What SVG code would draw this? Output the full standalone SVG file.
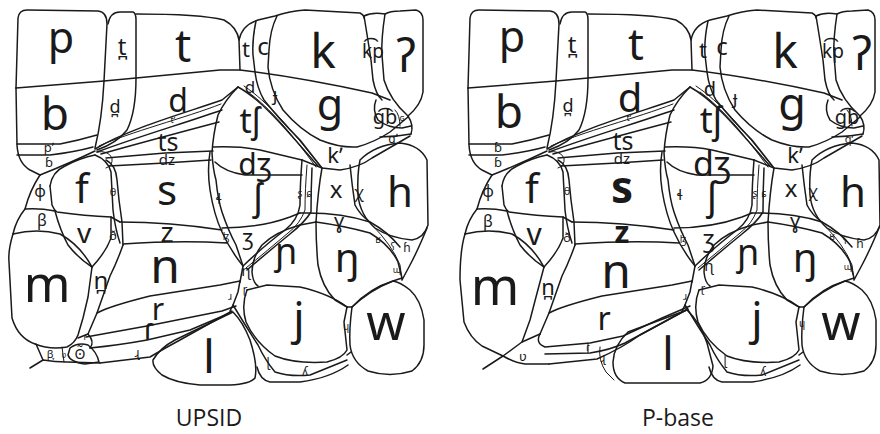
<svg xmlns="http://www.w3.org/2000/svg" width="880" height="434" viewBox="0 0 880 434">
<style>
.ln path{fill:none;stroke:#1a1a1a;stroke-width:1.5;stroke-linejoin:round;stroke-linecap:round}
.ln path.t{stroke-width:1}
text{font-family:"Noto Sans","DejaVu Sans",sans-serif;fill:#1a1a1a;text-anchor:middle}
.lab{opacity:0.995}
.cap{font-family:"Open Sans","Noto Sans",sans-serif;font-size:23px}
.bd{font-weight:700}
</style>
<rect width="880" height="434" fill="#fff"/>
<defs>
<g id="geoC" class="ln">
<path d="M16,88 L18,18 Q19,10 27,10 L98,11 Q107,12 107,24 L104,81"/>
<path d="M108,24 Q110,12 120,12 L133,12 Q136,13 136,20 L136,78"/>
<path d="M136,14 Q200,14 224,20 Q237,27 239,40 L240,70"/>
<path d="M16,88 L104,81 L136,78 L220,70 L240,70 C290,76 340,86 372,93 L390,100"/>
<path d="M239,40 Q242,25 258,20 L275,16 Q290,11 305,10 L360,13 Q364,15 364,18"/>
<path d="M256,21 Q252,40 253,55 L255,72 Q257,88 264,100 Q280,120 300,140 L322,168"/>
<path d="M277,16 Q270,30 269,50 L268,67 Q270,90 283,110 Q300,130 320,140 Q340,148 357,147 Q375,142 390,132 L408,117"/>
<path d="M364,16 Q368,40 371,60 L373,80 Q376,95 382,100"/>
<path d="M364,16 Q372,12 385,14 Q390,11 400,11 L416,10 Q423,12 423,20 L423,92 Q421,105 408,116"/>
<path d="M385,14 Q381,40 382,55 L384,80 Q390,100 408,116"/>
<path d="M376,100 Q372,110 378,120 Q388,128 402,128 L411,126"/>
<path d="M408,116 Q414,125 411,134"/>
<path d="M380,137 Q395,137 411,134"/>
<path class="t" d="M395,110 Q400,115 400,126"/>
<path d="M16,88 L17,145 Q18,163 30,170 L40,175"/>
<path d="M17,144 L60,144 Q80,140 97,135"/>
<path d="M17,155 L50,155 Q75,152 93,147"/>
<path d="M40,175 Q70,163 95,151"/>
<path d="M104,81 Q102,120 95,148"/>
<path d="M136,78 Q136,112 127,130 Q117,143 97,150"/>
<path d="M95,149 C130,128 185,113 222,100 L238,87"/>
<path d="M97,152 C140,136 185,123 222,110"/>
<path d="M101,154 C140,143 185,131 219,122"/>
<path class="t" d="M99,146 C130,132 185,118 221,104"/>
<path d="M106,158 L165,153 L213,151"/>
<path d="M109,166 L165,163 L211,160"/>
<path class="t" d="M97,152 Q108,150 112,158 Q113,166 106,168"/>
<path d="M50,186 Q52,172 65,166 Q80,158 95,155"/>
<path d="M50,186 L52,205 Q54,210 57,212 Q85,216 111,217 L120,222"/>
<path d="M95,155 Q108,160 111,172 L113,210 Q115,228 120,243"/>
<path d="M106,160 Q116,165 117,180 L119,200 Q121,215 122,222 L123,245"/>
<path d="M40,175 Q30,190 25,209 Q16,220 13,234"/>
<path d="M25,209 Q40,208 55,211"/>
<path d="M13,234 Q37,228 60,234 Q80,245 92,267"/>
<path d="M55,211 Q60,230 68,245 Q78,258 92,267"/>
<path d="M111,217 L111,238 Q106,252 92,267"/>
<path d="M123,245 Q117,262 110,276 L104,293 L97,313 L88,334"/>
<path d="M120,222 Q170,222 222,230"/>
<path d="M123,244 Q180,240 227,243"/>
<path d="M97,313 Q110,306 150,296 L220,285 L240,281"/>
<path d="M247,290 Q241,305 246,322 Q255,342 275,356 Q295,364 327,362 Q343,358 347,350 L344,322 L347,307"/>
<path d="M247,290 L267,285 L300,287 Q330,294 347,307"/>
<path d="M240,281 L238,292 L233,305 L230,311"/>
<path d="M233,305 Q245,325 258,345 Q265,360 275,372 Q290,377 310,375 L347,360"/>
<path d="M257,367 Q260,380 270,382 L300,382 Q330,378 348,365"/>
<path d="M352,307 Q349,330 350,345 Q352,362 368,371 Q390,378 412,371 Q424,362 424,345 L424,320 Q421,300 410,290 Q400,282 393,281 Q370,288 352,307"/>
<path d="M347,307 L352,307"/>
<path d="M347,355 L351,352"/>
<path d="M238,87 Q225,100 218,115 Q213,135 212,153 Q213,170 216,180 Q218,200 222,212 Q228,230 236,245 L243,266"/>
<path d="M210,152 Q207,170 210,190 Q214,215 222,232 Q230,250 243,266"/>
<path d="M213,147 Q240,146 260,150 Q285,156 302,160"/>
<path d="M215,162 Q225,172 245,175 L302,175"/>
<path d="M238,87 C262,100 285,128 318,166"/>
<path class="t" d="M244,86 C268,102 290,128 320,166"/>
<path class="t" d="M248,92 C270,108 292,134 316,167"/>
<path d="M302,160 Q300,185 300,205 Q298,220 285,230 Q265,245 243,266"/>
<path class="t" d="M307,165 Q305,190 305,210 Q300,224 288,233 Q268,250 246,268"/>
<path d="M312,168 Q311,190 311,212 Q305,222 290,234 Q268,252 247,270"/>
<path d="M302,160 L322,168 L340,170 Q360,167 372,158 L410,136"/>
<path d="M222,228 Q260,228 290,217 L300,213"/>
<path d="M322,168 Q318,190 316,222"/>
<path d="M350,165 Q352,185 355,205 Q360,215 370,222"/>
<path d="M300,213 Q340,212 370,222 Q388,232 400,247"/>
<path d="M360,160 Q375,145 400,143 Q420,145 427,160 L428,225 Q424,238 412,240 Q390,238 375,228 Q360,215 358,195 Q357,175 360,160"/>
<path d="M427,228 Q418,250 410,265 L402,280"/>
<path class="t" d="M372,225 Q392,245 400,265 L402,280"/>
<path d="M300,225 Q275,232 262,245 Q252,258 252,272 Q253,283 258,286"/>
<path d="M300,225 L316,222"/>
<path d="M316,222 Q316,245 318,265 Q322,287 335,300 L347,307"/>
<path d="M316,222 Q345,226 370,233 Q390,245 398,262 L402,278"/>
<path d="M352,307 Q370,290 393,281 L402,278"/>
<path d="M243,266 L240,282"/>
</g>
</defs>

<g id="upsid">
<g id="upsid-cells" class="ln">
<use href="#geoC"/>
<path d="M13,234 Q8,250 9,262 L12,318 Q18,338 35,344 Q50,350 67,347 Q75,343 78,335 L83,318 L88,297 L92,267"/>
<path d="M78,338 L88,334 Q95,342 90,348"/>
<path d="M86,337 L147,326 L222,311 L236,306"/>
<path d="M90,348 Q120,345 147,340 L190,330 L230,313"/>
<path d="M100,363 L150,357 Q165,348 180,340 L232,311"/>
<path d="M153,360 Q160,348 175,340 L233,312 Q243,322 250,340 Q258,365 255,378 Q250,384 230,385 L200,385 Q175,383 162,375 Q152,367 153,360"/>
<path d="M30,368 L43,360 Q55,362 67,362 L100,363"/>
<path d="M36,344 L43,360"/>
<path class="t" d="M62,347 L64,362"/>
<path d="M70,348 Q78,342 88,345 Q97,352 99,362 L85,364 Q70,362 68,355 Z"/>
</g>
<g id="upsid-labels" class="lab">
<text x="61" y="53" font-size="43">p</text>
<text x="122" y="55" font-size="24">t̪</text>
<text x="183" y="62" font-size="45">t</text>
<text x="246" y="57" font-size="22">t</text>
<text x="263" y="55" font-size="24">c</text>
<text x="323" y="68" font-size="48">k</text>
<text x="373" y="58" font-size="19">k͡p</text>
<text x="406" y="72" font-size="46">ʔ</text>
<text x="55" y="130" font-size="46">b</text>
<text x="115" y="113" font-size="18">d̪</text>
<text x="178" y="112" font-size="32">d</text>
<text x="250" y="93" font-size="17">d</text>
<text x="275" y="101" font-size="18">ɟ</text>
<text x="330" y="120" font-size="43">ɡ</text>
<text x="250" y="133" font-size="34">tʃ</text>
<text x="385" y="124" font-size="20">ɡ͡b</text>
<text x="402" y="121" font-size="9">ɢ</text>
<text x="393" y="143" font-size="12">qʼ</text>
<text x="335" y="163" font-size="22">kʼ</text>
<text x="173" y="123" font-size="9">tʼ</text>
<text x="168" y="151" font-size="25">ts</text>
<text x="167" y="165" font-size="15">dz</text>
<text x="49" y="152" font-size="13">pʼ</text>
<text x="49" y="167" font-size="13">ɓ</text>
<text x="255" y="175" font-size="30">dʒ</text>
<text x="82" y="203" font-size="40">f</text>
<text x="40" y="197" font-size="16">ϕ</text>
<text x="113" y="196" font-size="11">θ</text>
<text x="167" y="205" font-size="42">s</text>
<text x="219" y="204" font-size="15">ɬ</text>
<text x="258" y="210" font-size="37">ʃ</text>
<text x="300" y="197" font-size="10">ʂ</text>
<text x="309" y="197" font-size="10">ɕ</text>
<text x="336" y="198" font-size="24">x</text>
<text x="359" y="198" font-size="16">χ</text>
<text x="400" y="207" font-size="42">h</text>
<text x="42" y="226" font-size="16">β</text>
<text x="84" y="243" font-size="28">v</text>
<text x="113" y="240" font-size="13">ð</text>
<text x="167" y="242" font-size="28">z</text>
<text x="226" y="240" font-size="10">ɮ</text>
<text x="248" y="245" font-size="22">ʒ</text>
<text x="339" y="228" font-size="20">ɣ</text>
<text x="378" y="243" font-size="10">ʁ</text>
<text x="393" y="250" font-size="10">ʕ</text>
<text x="407" y="252" font-size="12">ɦ</text>
<text x="286" y="264" font-size="36">ɲ</text>
<text x="347" y="272" font-size="40">ŋ</text>
<text x="246" y="276" font-size="15">ɳ</text>
<text x="397" y="273" font-size="9">ɰ</text>
<text x="47" y="302" font-size="50">m</text>
<text x="101" y="289" font-size="24">n̪</text>
<text x="165" y="283" font-size="48">n</text>
<text x="245" y="293" font-size="11">ɽ</text>
<text x="230" y="300" font-size="10">ɹ</text>
<text x="158" y="320" font-size="30">r</text>
<text x="149" y="340" font-size="30">ɾ</text>
<text x="85" y="340" font-size="9">ɾ</text>
<text x="299" y="334" font-size="44">j</text>
<text x="386" y="340" font-size="50">w</text>
<text x="346" y="330" font-size="10">ɥ</text>
<text x="268" y="367" font-size="12">ɭ</text>
<text x="305" y="376" font-size="12">ʎ</text>
<text x="209" y="373" font-size="46">l</text>
<text x="137" y="357" font-size="12">ɻ</text>
<text x="50" y="358" font-size="11">β̞</text>
<text x="64" y="358" font-size="8">ʋ</text>
<text x="80" y="359" font-size="14">ʘ̃</text>
</g>
</g>

<g id="pbase">
<g id="pbase-cells" class="ln">
<use href="#geoC" transform="translate(452,0)"/>
<path d="M465,234 Q460,250 460,280 L464,322 Q470,338 482,346 L503,356 L522,342 L530,320 L536,297 L544,267"/>
<path d="M483,369 L503,356"/>
<path d="M503,356 Q515,363 525,364 L549,364"/>
<path d="M522,342 L540,334"/>
<path d="M540,334 Q535,343 545,347 L590,343 L623,336 L662,318 L690,306"/>
<path d="M545,354 L590,353 Q610,350 625,343 L688,309"/>
<path d="M549,364 L597,359 Q622,348 640,335 L686,310"/>
<path d="M687,310 Q700,322 707,343 L713,366 Q712,380 700,383 L625,383 Q613,378 613,362 Q614,345 628,332 L687,310"/>
<path class="t" d="M600,347 Q598,360 606,372 L614,380"/>
<path class="t" d="M588,343 L588,353"/>
</g>
<g id="pbase-labels" class="lab">
<text x="512" y="52" font-size="43">p</text>
<text x="572" y="53" font-size="24">t̪</text>
<text x="636" y="60" font-size="44">t</text>
<text x="703" y="58" font-size="22">t</text>
<text x="722" y="55" font-size="24">c</text>
<text x="785" y="68" font-size="48">k</text>
<text x="833" y="58" font-size="19">k͡p</text>
<text x="862" y="70" font-size="46">ʔ</text>
<text x="509" y="128" font-size="46">b</text>
<text x="568" y="112" font-size="18">d̪</text>
<text x="630" y="112" font-size="40">d</text>
<text x="710" y="96" font-size="20">d</text>
<text x="735" y="104" font-size="18">ɟ</text>
<text x="792" y="120" font-size="45">ɡ</text>
<text x="711" y="133" font-size="36">tʃ</text>
<text x="847" y="124" font-size="20">ɡ͡b</text>
<text x="849" y="143" font-size="11">qʼ</text>
<text x="795" y="163" font-size="22">kʼ</text>
<text x="629" y="121" font-size="9">tʼ</text>
<text x="623" y="150" font-size="25">ts</text>
<text x="622" y="164" font-size="15">dz</text>
<text x="498" y="152" font-size="13">ɓ</text>
<text x="498" y="167" font-size="13">ɓ</text>
<text x="712" y="176" font-size="34">dʒ</text>
<text x="532" y="203" font-size="40">f</text>
<text x="488" y="197" font-size="16">ϕ</text>
<text x="567" y="195" font-size="11">θ</text>
<text x="622" y="203" font-size="44" class="bd">s</text>
<text x="680" y="200" font-size="15">ɬ</text>
<text x="712" y="210" font-size="38">ʃ</text>
<text x="755" y="197" font-size="10">ʂ</text>
<text x="764" y="197" font-size="10">ɕ</text>
<text x="791" y="197" font-size="24">x</text>
<text x="813" y="197" font-size="16">χ</text>
<text x="853" y="207" font-size="42">h</text>
<text x="488" y="227" font-size="16">β</text>
<text x="534" y="245" font-size="30">v</text>
<text x="567" y="242" font-size="13">ð</text>
<text x="622" y="243" font-size="30" class="bd">z</text>
<text x="683" y="243" font-size="10">ɮ</text>
<text x="709" y="247" font-size="24">ʒ</text>
<text x="795" y="228" font-size="20">ɣ</text>
<text x="832" y="240" font-size="10">ʁ</text>
<text x="845" y="244" font-size="10">ʕ</text>
<text x="860" y="248" font-size="12">ɦ</text>
<text x="748" y="265" font-size="36">ɲ</text>
<text x="805" y="272" font-size="40">ŋ</text>
<text x="709" y="271" font-size="15">ɳ</text>
<text x="848" y="270" font-size="9">ɰ</text>
<text x="495" y="305" font-size="52">m</text>
<text x="548" y="295" font-size="22">n̪</text>
<text x="616" y="288" font-size="48">n</text>
<text x="703" y="292" font-size="11">ɽ</text>
<text x="685" y="300" font-size="10">ɹ</text>
<text x="604" y="330" font-size="32">r</text>
<text x="588" y="351" font-size="11">ɾ</text>
<text x="603" y="362" font-size="12">ɻ</text>
<text x="523" y="361" font-size="13">ʋ</text>
<text x="668" y="370" font-size="46">l</text>
<text x="757" y="334" font-size="44">j</text>
<text x="841" y="340" font-size="50">w</text>
<text x="802" y="327" font-size="10">ɥ</text>
<text x="725" y="365" font-size="12">ɭ</text>
<text x="763" y="376" font-size="12">ʎ</text>
</g>
</g>

<text class="cap" x="209" y="426">UPSID</text>
<text class="cap" x="678" y="426">P-base</text>
</svg>
